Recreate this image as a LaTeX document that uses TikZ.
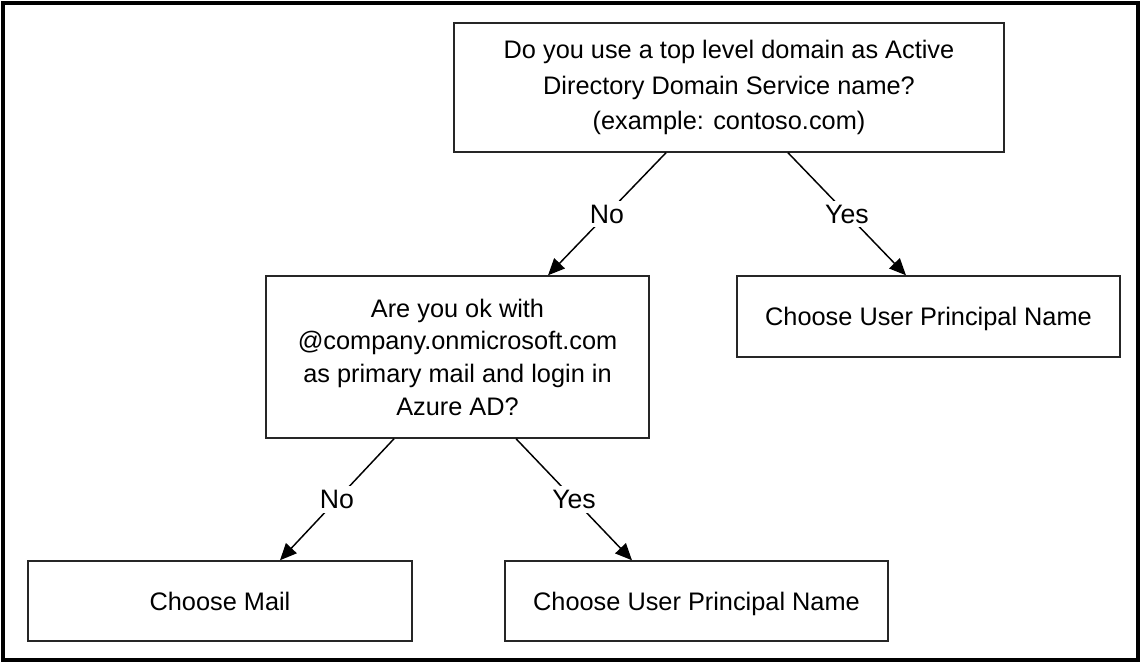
\documentclass[tikz,border=0pt]{standalone}
\usepackage{fontspec}
\setmainfont{Liberation Sans}
\usetikzlibrary{arrows.meta}
\begin{document}
\begin{tikzpicture}[x=0.75pt,y=-0.75pt,
  box/.style={draw=black!85, line width=1.1pt, align=center, inner sep=0pt, font=\fontsize{19}{24.5}\selectfont},
  single/.style={text height=13.6pt, text depth=0pt},
  conn/.style={line width=1.1pt, -{Triangle[length=12.5pt,width=11pt]}},
  lbl/.style={fill=white, inner sep=3pt, font=\fontsize{20}{24}\selectfont}]
\useasboundingbox (0,0) rectangle (1141,663);
\node[draw, line width=2.3pt, minimum width=851.25pt, minimum height=492.75pt, inner sep=0pt] (frame) at (570.5,331.5) {};
\node[box, minimum width=412.5pt, minimum height=96.75pt, font=\fontsize{19}{26.5}\selectfont] (q1) at (729,87.5)
  {Do you use a top level domain as Active\\Directory Domain Service name?\\(example: contoso.com)};
\node[box, minimum width=287.25pt, minimum height=121.5pt] (q2) at (457.5,357)
  {Are you ok with\\@company.onmicrosoft.com\\as primary mail and login in\\Azure AD?};
\node[box, single, minimum width=287.25pt, minimum height=60.75pt] (upn1) at (928.5,316.5) {Choose User Principal Name};
\node[box, single, minimum width=288pt, minimum height=60pt] (mail) at (220,601) {Choose Mail};
\node[box, single, minimum width=287.25pt, minimum height=60pt] (upn2) at (696.5,601) {Choose User Principal Name};
\draw[conn] ([xshift=-47.25pt]q1.south) -- node[lbl]{No} ([xshift=67.9pt]q2.north);
\draw[conn] ([xshift=44.25pt]q1.south) -- node[lbl]{Yes} ([xshift=-16.9pt]upn1.north);
\draw[conn] ([xshift=-47.6pt]q2.south) -- node[lbl]{No} ([xshift=45pt]mail.north);
\draw[conn] ([xshift=43.9pt]q2.south) -- node[lbl]{Yes} ([xshift=-48.4pt]upn2.north);
\end{tikzpicture}
\end{document}
